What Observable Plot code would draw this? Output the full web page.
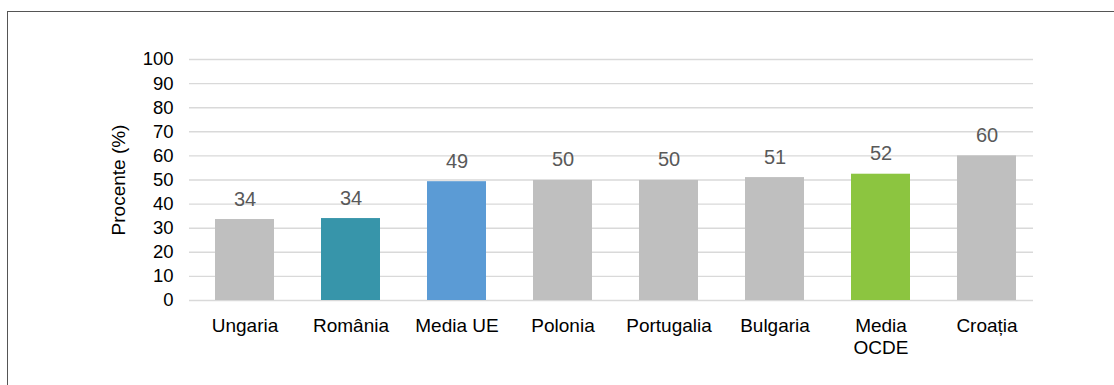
<!DOCTYPE html>
<html>
<head>
<meta charset="utf-8">
<script src="https://cdn.jsdelivr.net/npm/d3@7"></script>
<script src="https://cdn.jsdelivr.net/npm/@observablehq/plot@0.6"></script>
<style>
  html, body { margin: 0; padding: 0; background: #fff; overflow: hidden; }
  #wrap { position: relative; width: 1114px; height: 385px; overflow: hidden; }
  #frame { position: absolute; left: 7px; top: 11px; width: 1130px; height: 400px; border: 1px solid #555; box-sizing: border-box; }
  #chart { position: absolute; left: 0; top: 0; }
</style>
</head>
<body>
<div id="wrap"><div id="frame"></div><div id="chart"></div></div>
<script>
const categories = ["Ungaria", "România", "Media UE", "Polonia", "Portugalia", "Bulgaria", "Media\nOCDE", "Croația"];
const values = [33.6, 34, 49.3, 49.8, 49.8, 51, 52.4, 60];
const valueLabels = ["34", "34", "49", "50", "50", "51", "52", "60"];
const barColors = ["#bfbfbf", "#3795aa", "#5b9bd5", "#bfbfbf", "#bfbfbf", "#bfbfbf", "#8cc540", "#bfbfbf"];
const yTicks = [0, 10, 20, 30, 40, 50, 60, 70, 80, 90, 100];
const yLabel = "Procente (%)";

const data = categories.map((c, i) => ({ cat: c, value: values[i], label: valueLabels[i], color: barColors[i] }));

const chart = Plot.plot({
  width: 1114,
  height: 385,
  marginLeft: 189,
  marginRight: 73,
  marginTop: 59,
  marginBottom: 85,
  style: { fontFamily: "'Liberation Sans', Arial, sans-serif", fontSize: "18.5px", color: "#000", background: "transparent" },
  x: { domain: categories, paddingInner: 0.445, paddingOuter: 0.225, label: null },
  y: { domain: [0, 100], label: null },
  marks: [
    Plot.ruleY(yTicks, { stroke: "#d9d9d9", strokeWidth: 1.4, insetRight: 8 }),
    Plot.barY(data, { x: "cat", y: "value", fill: "color" }),
    Plot.text(data, { x: "cat", y: "value", text: "label", lineAnchor: "bottom", dy: -14, fontSize: 20, fill: "#595959" }),
    Plot.axisY(yTicks, { tickSize: 0, tickPadding: 16, fontSize: 18.5, label: null }),
    Plot.text([yLabel], { frameAnchor: "left", dx: -71, rotate: -90, textAnchor: "middle", fontSize: 19, fill: "#000" }),
    Plot.axisX({ tickSize: 0, tickPadding: 16, fontSize: 19, lineHeight: 1.15 })
  ]
});
document.getElementById("chart").appendChild(chart);
</script>
</body>
</html>
